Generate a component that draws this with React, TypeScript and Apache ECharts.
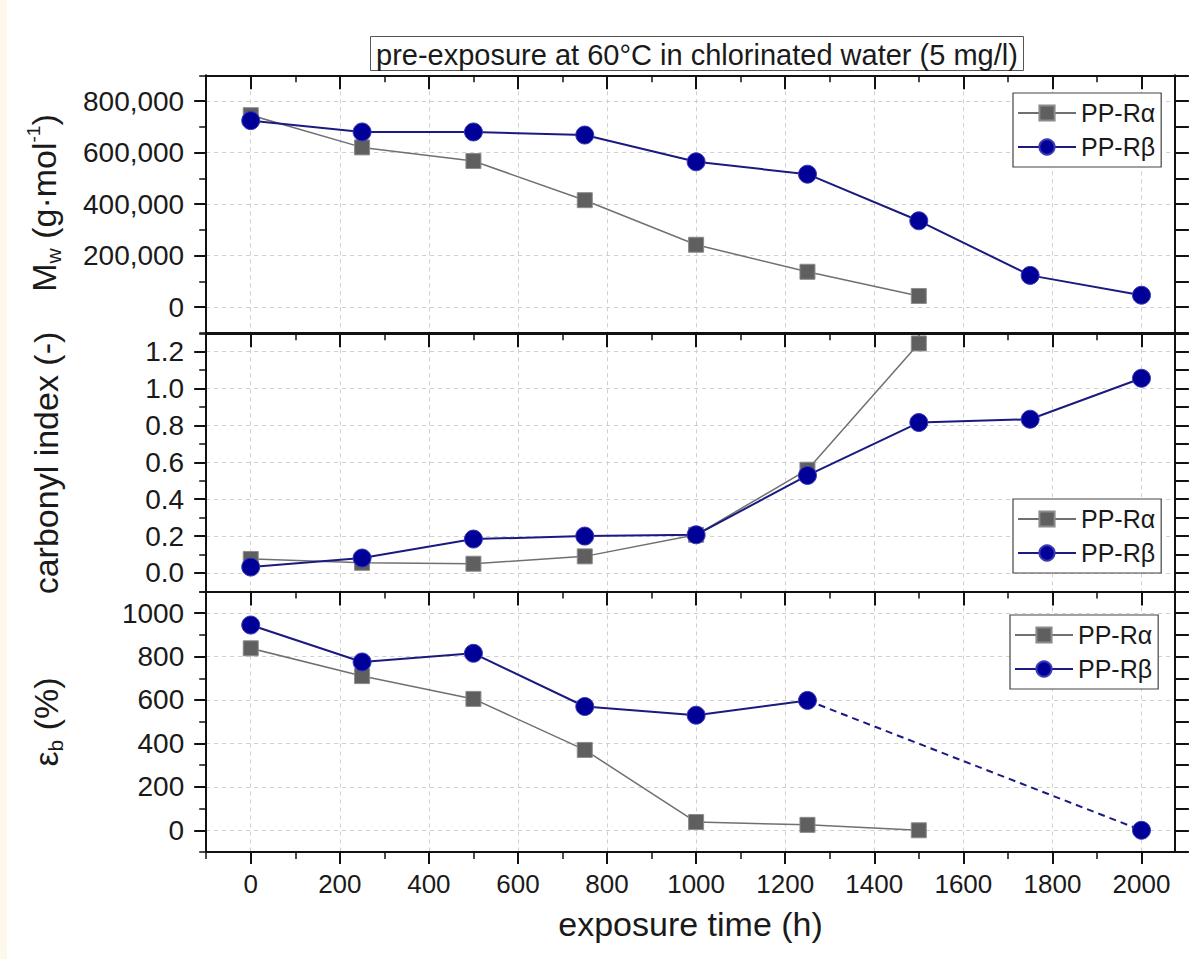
import React, { useEffect, useRef } from "react";
import * as echarts from "echarts";

// exposure times (h)
const hours = [0, 250, 500, 750, 1000, 1250, 1500, 1750, 2000];
const NAME_A = "PP-Rα";
const NAME_B = "PP-Rβ";

// weight-average molar mass Mw (g/mol)
const mwAlpha = [745000, 620000, 567000, 415000, 242000, 137000, 43000, null, null];
const mwBeta = [724000, 680000, 680000, 668000, 564000, 516000, 335000, 123000, 46000];

// carbonyl index (-)
const ciAlpha = [0.076, 0.055, 0.05, 0.09, 0.207, 0.56, 1.245, null, null];
const ciBeta = [0.032, 0.081, 0.184, 0.2, 0.207, 0.529, 0.816, 0.834, 1.056];

// elongation at break (%)
const ebAlpha = [838, 710, 605, 370, 38, 25, 0, null, null];
const ebBeta = [945, 775, 815, 570, 530, 598, null, null, 0];

// axis ticks
const timeTicks = [0, 200, 400, 600, 800, 1000, 1200, 1400, 1600, 1800, 2000];
const timeMinorTicks = [-100, 100, 300, 500, 700, 900, 1100, 1300, 1500, 1700, 1900];
const mwTicks = [0, 200000, 400000, 600000, 800000];
const mwMinorTicks = [-100000, 100000, 300000, 500000, 700000, 900000];
const ciTicks = [0, 0.2, 0.4, 0.6, 0.8, 1.0, 1.2];
const ciMinorTicks = [-0.1, 0.1, 0.3, 0.5, 0.7, 0.9, 1.1, 1.3];
const ebTicks = [0, 200, 400, 600, 800, 1000];
const ebMinorTicks = [-100, 100, 300, 500, 700, 900, 1100];

const TITLE_TEXT = "pre-exposure at 60°C in chlorinated water (5 mg/l)";

const FONT = "'Liberation Sans', Arial, Helvetica, sans-serif";
const INK = "#1a1a1a";
const FRAME = "#111111";

const GRID_LEFT = 206.2;
const GRID_WIDTH = 968.7;
const X_MIN = -100;
const X_MAX = 2075;

type Panel = {
  top: number;
  height: number;
  min: number;
  max: number;
  step: number;
  ticks: number[];
  minor: number[];
  alpha: (number | null)[];
  beta: (number | null)[];
  fmt: (v: number) => string;
  legendLeft: number;
  legendTop: number;
};

const panels: Panel[] = [
  {
    top: 75.3, height: 257.5, min: -100000, max: 900000, step: 100000,
    ticks: mwTicks, minor: mwMinorTicks, alpha: mwAlpha, beta: mwBeta,
    fmt: (v) => Math.round(v).toLocaleString("en-US"),
    legendLeft: 1013, legendTop: 93,
  },
  {
    top: 333.3, height: 258.1, min: -0.1, max: 1.3, step: 0.1,
    ticks: ciTicks, minor: ciMinorTicks, alpha: ciAlpha, beta: ciBeta,
    fmt: (v) => v.toFixed(1),
    legendLeft: 1013, legendTop: 499,
  },
  {
    top: 591.4, height: 260.6, min: -100, max: 1100, step: 100,
    ticks: ebTicks, minor: ebMinorTicks, alpha: ebAlpha, beta: ebBeta,
    fmt: (v) => String(Math.round(v)),
    legendLeft: 1010, legendTop: 615,
  },
];

const toPoints = (ys: (number | null)[]) =>
  hours.map((h, i) => [h, ys[i] == null ? "-" : ys[i]]);

// dashed connectors across gaps of missing measurements
const gapBridges = (ys: (number | null)[]) => {
  const out: [number, number][][] = [];
  for (let i = 0; i < ys.length - 1; i++) {
    if (ys[i] != null && ys[i + 1] == null) {
      let j = i + 1;
      while (j < ys.length && ys[j] == null) j++;
      if (j < ys.length) out.push([[hours[i], ys[i] as number], [hours[j], ys[j] as number]]);
    }
  }
  return out;
};

const alphaItem = { color: "#5f5f5f", borderColor: "#8c8c8c", borderWidth: 1 };
const alphaLine = { color: "#707070", width: 1.5 };
const betaItem = { color: "#000099", borderColor: "#3a3ab4", borderWidth: 1 };
const betaLine = { color: "#1a1a80", width: 2 };

const frameLine = { show: true, onZero: false, lineStyle: { color: FRAME, width: 2 } };
const noLine = { show: false, onZero: false };
const gridDash = { show: true, lineStyle: { color: "#cfcfcf", width: 1, type: [4, 4] } };
const tickStyle = (w: number) => ({ color: FRAME, width: w });

function buildOption() {
  const xAxis: any[] = [];
  const yAxis: any[] = [];
  const series: any[] = [];
  const legend: any[] = [];
  const grid: any[] = [];

  panels.forEach((p, g) => {
    const last = g === panels.length - 1;
    grid.push({ left: GRID_LEFT, top: p.top, width: GRID_WIDTH, height: p.height, containLabel: false });

    // bottom x axis (frame line + vertical grid lines; labelled on the last panel)
    const xMain = xAxis.length;
    xAxis.push({
      type: "value", gridIndex: g, position: "bottom", min: X_MIN, max: X_MAX, interval: 100,
      axisLine: frameLine,
      axisTick: { show: last, customValues: timeTicks, length: 12, lineStyle: tickStyle(2) },
      axisLabel: {
        show: last, customValues: timeTicks, margin: 19, fontSize: 26,
        fontFamily: FONT, color: INK, formatter: (v: number) => String(v),
      },
      splitLine: gridDash,
      name: last ? "exposure time (h)" : "",
      nameLocation: "middle",
      nameGap: 55,
      nameTextStyle: { fontSize: 34, fontFamily: FONT, color: INK },
    });
    if (last) {
      xAxis.push({
        type: "value", gridIndex: g, position: "bottom", min: X_MIN, max: X_MAX, interval: 100,
        axisLine: noLine,
        axisTick: { show: true, customValues: timeMinorTicks, length: 7, lineStyle: tickStyle(1.5) },
        axisLabel: { show: false }, splitLine: { show: false },
      });
    }
    // top x axis, inward ticks
    xAxis.push({
      type: "value", gridIndex: g, position: "top", min: X_MIN, max: X_MAX, interval: 100,
      axisLine: frameLine,
      axisTick: { show: true, inside: true, customValues: timeTicks, length: 14, lineStyle: tickStyle(2) },
      axisLabel: { show: false }, splitLine: { show: false },
    });
    xAxis.push({
      type: "value", gridIndex: g, position: "top", min: X_MIN, max: X_MAX, interval: 100,
      axisLine: noLine,
      axisTick: { show: true, inside: true, customValues: timeMinorTicks, length: 7, lineStyle: tickStyle(1.5) },
      axisLabel: { show: false }, splitLine: { show: false },
    });

    // left y axis, labelled
    const yMain = yAxis.length;
    yAxis.push({
      type: "value", gridIndex: g, position: "left", min: p.min, max: p.max, interval: p.step,
      axisLine: frameLine,
      axisTick: { show: true, customValues: p.ticks, length: 12, lineStyle: tickStyle(2) },
      axisLabel: {
        show: true, customValues: p.ticks, margin: 22, fontSize: 28, fontFamily: FONT, color: INK,
        formatter: (v: number) => p.fmt(v),
      },
      splitLine: gridDash,
    });
    yAxis.push({
      type: "value", gridIndex: g, position: "left", min: p.min, max: p.max, interval: p.step,
      axisLine: noLine,
      axisTick: { show: true, customValues: p.minor, length: 7, lineStyle: tickStyle(1.5) },
      axisLabel: { show: false }, splitLine: { show: false },
    });
    // right y axis, ticks at every step
    yAxis.push({
      type: "value", gridIndex: g, position: "right", min: p.min, max: p.max, interval: p.step,
      axisLine: frameLine,
      axisTick: { show: true, length: 14, lineStyle: tickStyle(2) },
      axisLabel: { show: false }, splitLine: { show: false },
    });

    series.push({
      name: NAME_A, type: "line", xAxisIndex: xMain, yAxisIndex: yMain,
      data: toPoints(p.alpha), symbol: "rect", symbolSize: 15,
      itemStyle: alphaItem, lineStyle: alphaLine, connectNulls: false, z: 3,
    });
    gapBridges(p.alpha).forEach((seg) =>
      series.push({
        name: NAME_A, type: "line", xAxisIndex: xMain, yAxisIndex: yMain, data: seg,
        symbol: "none", lineStyle: { ...alphaLine, type: [6, 5] }, z: 3,
      })
    );
    series.push({
      name: NAME_B, type: "line", xAxisIndex: xMain, yAxisIndex: yMain,
      data: toPoints(p.beta), symbol: "circle", symbolSize: 18,
      itemStyle: betaItem, lineStyle: betaLine, connectNulls: false, z: 4,
    });
    gapBridges(p.beta).forEach((seg) =>
      series.push({
        name: NAME_B, type: "line", xAxisIndex: xMain, yAxisIndex: yMain, data: seg,
        symbol: "none", lineStyle: { ...betaLine, type: [7, 5] }, z: 4,
      })
    );

    legend.push({
      data: [NAME_A, NAME_B], orient: "vertical", left: p.legendLeft, top: p.legendTop,
      selectedMode: false, itemWidth: 58, itemHeight: 19, itemGap: 4,
      padding: [5, 6, 5, 4], borderColor: "#444", borderWidth: 1.2, backgroundColor: "#ffffff",
      textStyle: { fontSize: 25, fontFamily: FONT, color: INK, lineHeight: 30 },
    });
  });

  return {
    animation: false,
    backgroundColor: "#ffffff",
    title: {
      text: TITLE_TEXT, left: 370, top: 36, padding: [4, 6, 2, 6],
      borderColor: "#555", borderWidth: 1,
      textStyle: { fontSize: 29, fontWeight: "normal", fontFamily: FONT, color: INK },
    },
    grid, xAxis, yAxis, series, legend,
    graphic: [
      { type: "rect", shape: { x: 0, y: 0, width: 7, height: 959 }, style: { fill: "#fdf8e9" }, z: -10, silent: true },
      {
        type: "text", x: 44, y: 203, rotation: Math.PI / 2,
        style: {
          text: "{a|M}{s|w}{a| (g·mol}{p|-1}{a|)}",
          align: "center", verticalAlign: "middle", fill: INK,
          rich: {
            a: { fontSize: 34, fontFamily: FONT, lineHeight: 40, fill: INK },
            s: { fontSize: 21, fontFamily: FONT, lineHeight: 18, verticalAlign: "bottom", fill: INK },
            p: { fontSize: 19, fontFamily: FONT, lineHeight: 19, verticalAlign: "top", fill: INK },
          },
        },
      },
      {
        type: "text", x: 46, y: 463, rotation: Math.PI / 2,
        style: { text: "carbonyl index (-)", align: "center", verticalAlign: "middle", fill: INK, fontSize: 34, fontFamily: FONT },
      },
      {
        type: "text", x: 46, y: 722, rotation: Math.PI / 2,
        style: {
          text: "{a|ε}{s|b}{a| (%)}",
          align: "center", verticalAlign: "middle", fill: INK,
          rich: {
            a: { fontSize: 34, fontFamily: FONT, lineHeight: 40, fill: INK },
            s: { fontSize: 21, fontFamily: FONT, lineHeight: 18, verticalAlign: "bottom", fill: INK },
          },
        },
      },
    ],
  };
}

export default function App() {
  const ref = useRef<HTMLDivElement>(null);
  useEffect(() => {
    if (!ref.current) return;
    const chart = echarts.init(ref.current, undefined, { renderer: "svg" });
    chart.setOption(buildOption() as any);
    return () => chart.dispose();
  }, []);
  return (
    <div
      ref={ref}
      style={{ position: "fixed", left: 0, top: 0, width: 1189, height: 959, background: "#fff" }}
    />
  );
}
